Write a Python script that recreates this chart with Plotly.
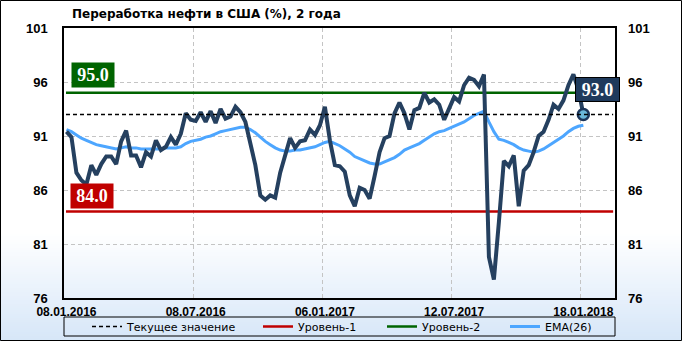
import plotly.graph_objects as go

# ---------------- data ----------------
tick_labels = ["08.01.2016", "08.07.2016", "06.01.2017", "12.07.2017", "18.01.2018"]
tick_index = [0, 26, 52, 78, 104]

refining = [
    91.4, 90.9, 87.6, 86.9, 86.5, 88.3, 87.4, 88.4, 89.1, 89.1,
    88.4, 90.5, 91.5, 89.2, 89.2, 88.1, 89.5, 89.1, 90.6, 89.7,
    90.0, 90.9, 90.2, 91.2, 93.1, 92.5, 92.4, 93.2, 92.3, 93.3,
    92.2, 93.5, 92.6, 92.8, 93.7, 93.2, 92.3, 90.3, 88.3, 85.5,
    85.1, 85.5, 85.3, 87.6, 89.2, 90.8, 89.9, 90.5, 90.6, 91.6,
    91.1, 92.0, 93.7, 90.6, 88.3, 88.2, 87.7, 85.5, 84.5, 86.2,
    86.0, 85.2, 87.3, 89.5, 90.8, 91.0, 93.1, 94.1, 93.1, 91.6,
    93.4, 93.6, 95.0, 94.1, 94.4, 93.9, 92.5, 93.6, 94.6, 94.2,
    95.7, 96.4, 96.2, 95.6, 96.7, 79.8, 77.7, 83.0, 88.7, 88.2,
    89.2, 84.5, 87.8, 88.3, 89.5, 91.0, 91.4, 92.5, 93.9, 93.5,
    94.3, 95.7, 96.7, 95.3, 93.0,
]

ema26 = [
    91.6, 91.4, 91.1, 90.8, 90.6, 90.4, 90.2, 90.1, 90.0, 89.9,
    89.8, 89.9, 90.0, 89.9, 89.9, 89.8, 89.8, 89.8, 89.8, 89.8,
    89.9, 89.9, 89.9, 90.0, 90.3, 90.5, 90.6, 90.7, 90.9, 91.0,
    91.2, 91.4, 91.5, 91.6, 91.7, 91.8, 91.8, 91.6, 91.3, 90.9,
    90.5, 90.2, 89.9, 89.7, 89.6, 89.6, 89.7, 89.7, 89.8, 89.9,
    90.0, 90.2, 90.4, 90.5, 90.3, 90.1, 89.8, 89.5, 89.1, 88.9,
    88.7, 88.5, 88.4, 88.4, 88.6, 88.8, 89.0, 89.3, 89.7, 89.9,
    90.1, 90.3, 90.6, 90.9, 91.2, 91.4, 91.5, 91.7, 91.9, 92.1,
    92.3, 92.6, 92.9, 93.1, 93.3, 92.3, 91.4, 90.7, 90.6, 90.4,
    90.2, 89.9, 89.7, 89.6, 89.5, 89.6, 89.8, 90.1, 90.4, 90.7,
    91.0, 91.4, 91.7, 91.9, 92.0,
]

level1 = 84.0
level2 = 95.0
y_ticks = [76, 81, 86, 91, 96, 101]

title_text = "Переработка нефти в США (%), 2 года"
legend_names = ["Текущее значение", "Уровень-1", "Уровень-2", "EMA(26)"]

# ---------------- geometry ----------------
W, H = 682, 341
ML, MR, MT, MB = 64, 67, 28, 43
PW, PH = W - ML - MR, H - MT - MB

idx = list(range(len(refining)))
x_end = 110.37
span = [-0.1, 110.0]
current = refining[-1]
legend_left_px = [87, 258, 382, 505]


def px_x(p):
    return (p - ML) / PW


def px_y(p):
    return (H - MB - p) / PH


NAVY = "#25405f"
RED = "#c00000"
GREEN = "#006400"
BLUE = "#4da6ff"

fig = go.Figure()

fig.add_trace(go.Scatter(x=span, y=[current, current], mode="lines", yaxis="y2",
                         line=dict(color="black", width=1.5, dash="4px,3px"),
                         name=legend_names[0], legend="legend"))
fig.add_trace(go.Scatter(x=span, y=[level1, level1], mode="lines",
                         line=dict(color=RED, width=2.5), name=legend_names[1],
                         legend="legend2"))
fig.add_trace(go.Scatter(x=span, y=[level2, level2], mode="lines",
                         line=dict(color=GREEN, width=2.5), name=legend_names[2],
                         legend="legend3"))
fig.add_trace(go.Scatter(x=idx, y=ema26, mode="lines",
                         line=dict(color=BLUE, width=3), name=legend_names[3],
                         legend="legend4"))
fig.add_trace(go.Scatter(x=idx, y=refining, mode="lines",
                         line=dict(color=NAVY, width=4), showlegend=False))
fig.add_trace(go.Scatter(x=[idx[-1]], y=[refining[-1]], mode="markers",
                         marker=dict(size=11, color="#6ab7d8",
                                     line=dict(color="#1b355a", width=2.5)),
                         showlegend=False))

shapes = []
# background gradient (whole figure)
g0, g1 = 232, 341
for yp in range(g0, g1, 2):
    t = (yp - g0) / (g1 - g0)
    r = round(255 + (214 - 255) * t)
    g = round(255 + (230 - 255) * t)
    b = round(255 + (248 - 255) * t)
    shapes.append(dict(type="rect", xref="paper", yref="paper",
                       x0=px_x(0), x1=px_x(W), y0=px_y(yp + 2.2), y1=px_y(yp),
                       fillcolor=f"rgb({r},{g},{b})", line=dict(width=0), layer="below"))
# legend box
shapes.append(dict(type="rect", xref="paper", yref="paper",
                   x0=0, x1=1, y0=px_y(336), y1=px_y(317),
                   line=dict(color="black", width=1), fillcolor="rgba(0,0,0,0)"))
# outer frame
shapes.append(dict(type="rect", xref="paper", yref="paper",
                   x0=px_x(0.5), x1=px_x(W - 0.5), y0=px_y(H - 0.5), y1=px_y(0.5),
                   line=dict(color="black", width=1), fillcolor="rgba(0,0,0,0)"))

lab_font = dict(family="Liberation Serif", size=18, color="white", weight="bold")
annotations = [
    dict(text=title_text, xref="paper", yref="paper", x=px_x(70), y=px_y(14),
         xanchor="left", yanchor="middle", showarrow=False,
         font=dict(family="DejaVu Sans", size=12, color="black", weight="bold")),
    dict(text=f"{level2:.1f}", xref="paper", yref="y", x=px_x(71), y=level2,
         xanchor="left", yanchor="bottom", yshift=5, showarrow=False,
         bgcolor=GREEN, width=40, height=22, borderpad=1, font=lab_font),
    dict(text=f"{level1:.1f}", xref="paper", yref="y", x=px_x(70), y=level1,
         xanchor="left", yanchor="bottom", yshift=3, showarrow=False,
         bgcolor=RED, width=40, height=22, borderpad=1, font=lab_font),
    dict(text=f"{current:.1f}", xref="x", yref="y", x=idx[-1], y=current,
         xanchor="left", yanchor="bottom", xshift=-8, yshift=12, showarrow=False,
         bgcolor="#1f3a5c", bordercolor="black", borderwidth=1,
         width=41, height=21, borderpad=1, font=lab_font),
]

grid_col = "#c4c4c4"
tickfont_y = dict(family="Liberation Sans", size=13, color="black", weight="bold")


def legend_cfg(px_left):
    return dict(orientation="h", x=px_x(px_left), y=px_y(326.5), xanchor="left",
                yanchor="middle", bgcolor="rgba(0,0,0,0)", borderwidth=0,
                font=dict(family="DejaVu Sans", size=11, color="black"), itemwidth=30)


fig.update_layout(
    width=W, height=H,
    margin=dict(l=ML, r=MR, t=MT, b=MB, autoexpand=False),
    paper_bgcolor="white", plot_bgcolor="rgba(0,0,0,0)",
    shapes=shapes, annotations=annotations,
    showlegend=True,
    legend=legend_cfg(legend_left_px[0]),
    legend2=legend_cfg(legend_left_px[1]),
    legend3=legend_cfg(legend_left_px[2]),
    legend4=legend_cfg(legend_left_px[3]),
    xaxis=dict(range=[-0.5, x_end], tickmode="array", tickvals=tick_index, ticktext=tick_labels,
               showgrid=False, zeroline=False, showline=True, mirror=True,
               linecolor="black", linewidth=1.5, ticks="", ticklabelstandoff=2,
               tickfont=dict(family="Liberation Sans", size=12, color="black", weight="bold"),
               minor=dict(tickmode="array", tickvals=[v - 0.5 for v in tick_index],
                          showgrid=True, gridcolor=grid_col, griddash="4px,3px", gridwidth=1,
                          ticks="")),
    yaxis=dict(range=[76, 101], tickmode="array", tickvals=y_ticks, showgrid=True,
               gridcolor=grid_col, griddash="4px,3px", gridwidth=1, zeroline=False,
               showline=True, mirror=True, linecolor="black", linewidth=1.5, ticks="",
               ticklabelstandoff=12, tickfont=tickfont_y),
    yaxis2=dict(range=[76, 101], overlaying="y", side="right", tickmode="array",
                tickvals=y_ticks, showgrid=False, zeroline=False, showline=False, ticks="",
                ticklabelstandoff=12, tickfont=tickfont_y),
    hovermode=False,
)

fig.write_html("out.html")
